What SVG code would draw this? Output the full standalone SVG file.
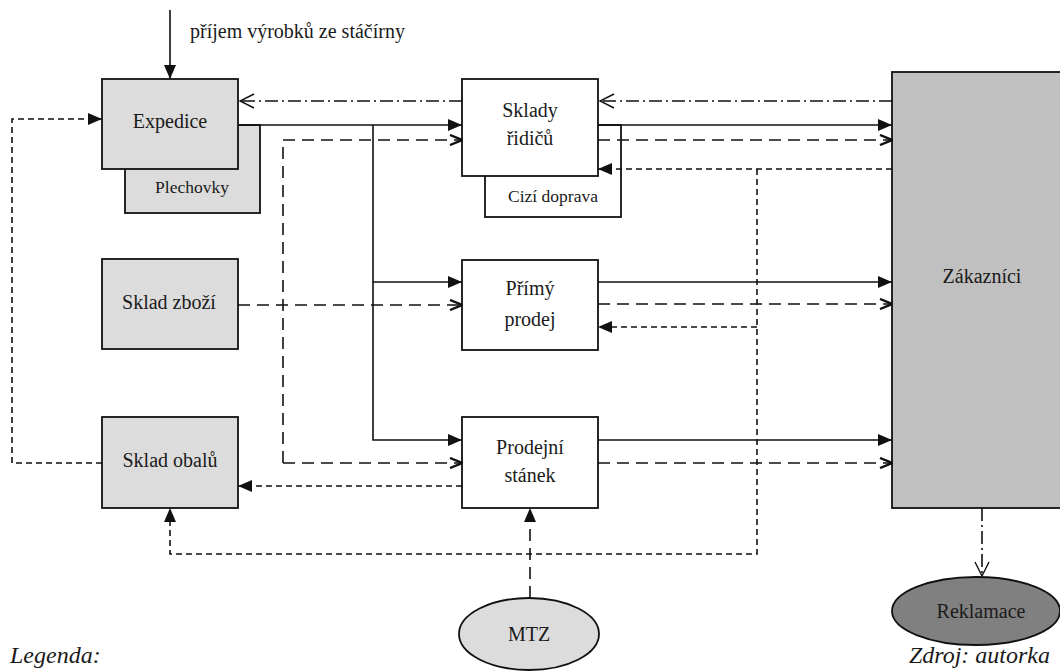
<svg xmlns="http://www.w3.org/2000/svg" width="1060" height="671" viewBox="0 0 1060 671">
<style>
text{font-family:"Liberation Serif","Times New Roman",serif;fill:#1a1a1a;text-anchor:middle}
.lbl{font-size:20px}
.sm{font-size:17.5px}
.it{font-size:24px;font-style:italic}
.box{stroke:#111;stroke-width:1.8}
.g{fill:#dcdcdc}
.w{fill:#fff}
.c{fill:none;stroke:#111;stroke-width:1.6}
.ld{stroke-dasharray:12 7}
.sd{stroke-dasharray:6 4}
.dd{stroke-dasharray:13 4 2 4}
</style>
<defs>
<marker id="af" viewBox="0 0 14 12" refX="14" refY="6" markerWidth="14" markerHeight="12" markerUnits="userSpaceOnUse" orient="auto"><path d="M0,0 L14,6 L0,12 Z" fill="#111"/></marker>
<marker id="ac" viewBox="0 0 14 12" refX="13" refY="6" markerWidth="14" markerHeight="12" markerUnits="userSpaceOnUse" orient="auto"><path d="M1,1 L13,6 L1,11" fill="none" stroke="#111" stroke-width="2.4"/></marker>
<marker id="ao" viewBox="0 0 16 16" refX="15" refY="8" markerWidth="16" markerHeight="16" markerUnits="userSpaceOnUse" orient="auto"><path d="M1,1 L15,8 L1,15" fill="none" stroke="#111" stroke-width="1.4"/></marker>
</defs>

<g id="zakaznici"><rect class="box" x="892" y="72" width="180" height="436" fill="#c0c0c0"/><text class="lbl" x="982" y="283">Zákazníci</text></g>
<g id="plechovky"><rect class="box g" x="125" y="125" width="135" height="88"/><text class="sm" x="192" y="193">Plechovky</text></g>
<g id="expedice"><rect class="box g" x="102" y="79" width="136" height="90"/><text class="lbl" x="170" y="128">Expedice</text></g>
<g id="cizi-doprava"><rect class="box w" x="485" y="125" width="136" height="92"/><text class="sm" x="553" y="202">Cizí doprava</text></g>
<g id="sklady-ridicu"><rect class="box w" x="462" y="79" width="136" height="97"/><text class="lbl" x="530" y="117">Sklady</text><text class="lbl" x="530" y="145">řidičů</text></g>
<g id="sklad-zbozi"><rect class="box g" x="102" y="259" width="136" height="90"/><text class="lbl" x="169" y="309">Sklad zboží</text></g>
<g id="primy-prodej"><rect class="box w" x="462" y="260" width="136" height="90"/><text class="lbl" x="530" y="295">Přímý</text><text class="lbl" x="530" y="326">prodej</text></g>
<g id="sklad-obalu"><rect class="box g" x="102" y="417" width="136" height="91"/><text class="lbl" x="170" y="467">Sklad obalů</text></g>
<g id="prodejni-stanek"><rect class="box w" x="462" y="417" width="136" height="91"/><text class="lbl" x="530" y="454">Prodejní</text><text class="lbl" x="530" y="482">stánek</text></g>
<g id="mtz"><ellipse class="box g" cx="529" cy="634" rx="70" ry="36"/><text class="lbl" x="529" y="641">MTZ</text></g>
<g id="reklamace"><ellipse class="box" cx="976" cy="611" rx="84" ry="34" fill="#808080"/><text class="lbl" x="981" y="618">Reklamace</text></g>

<g id="connectors">
<path class="c" d="M170,10 V79" marker-end="url(#af)"/>
<path class="c dd" d="M462,101 H240" marker-end="url(#ao)"/>
<path class="c dd" d="M892,101 H600" marker-end="url(#ao)"/>
<path class="c" d="M238,125 H462" marker-end="url(#af)"/>
<path class="c" d="M373,125 V440 H462" marker-end="url(#af)"/>
<path class="c" d="M373,282 H462" marker-end="url(#af)"/>
<path class="c ld" d="M283,463 V140 H462" marker-end="url(#ac)"/>
<path class="c ld" d="M283,463 H462" marker-end="url(#ac)"/>
<path class="c ld" d="M238,305 H462" marker-end="url(#ac)"/>
<path class="c" d="M598,125 H892" marker-end="url(#af)"/>
<path class="c ld" d="M598,140 H892" marker-end="url(#ac)"/>
<path class="c sd" d="M892,169 H598" marker-end="url(#af)"/>
<path class="c sd" d="M757,169 V554 H170 V508" marker-end="url(#af)"/>
<path class="c sd" d="M757,327 H598" marker-end="url(#af)"/>
<path class="c" d="M598,282 H892" marker-end="url(#af)"/>
<path class="c ld" d="M598,304 H892" marker-end="url(#ac)"/>
<path class="c" d="M598,440 H892" marker-end="url(#af)"/>
<path class="c ld" d="M598,463 H892" marker-end="url(#ac)"/>
<path class="c sd" d="M462,486 H238" marker-end="url(#af)"/>
<path class="c sd" d="M102,463 H12 V119 H102" marker-end="url(#af)"/>
<path class="c ld" d="M530,598 V508" marker-end="url(#af)"/>
<path class="c dd" d="M982,508 V576" marker-end="url(#ao)"/>
</g>

<text x="190" y="38" style="font-size:20px;text-anchor:start">příjem výrobků ze stáčírny</text>
<text class="it" x="10" y="663" style="text-anchor:start">Legenda:</text>
<text class="it" x="1050" y="663" style="text-anchor:end">Zdroj: autorka</text>
</svg>
